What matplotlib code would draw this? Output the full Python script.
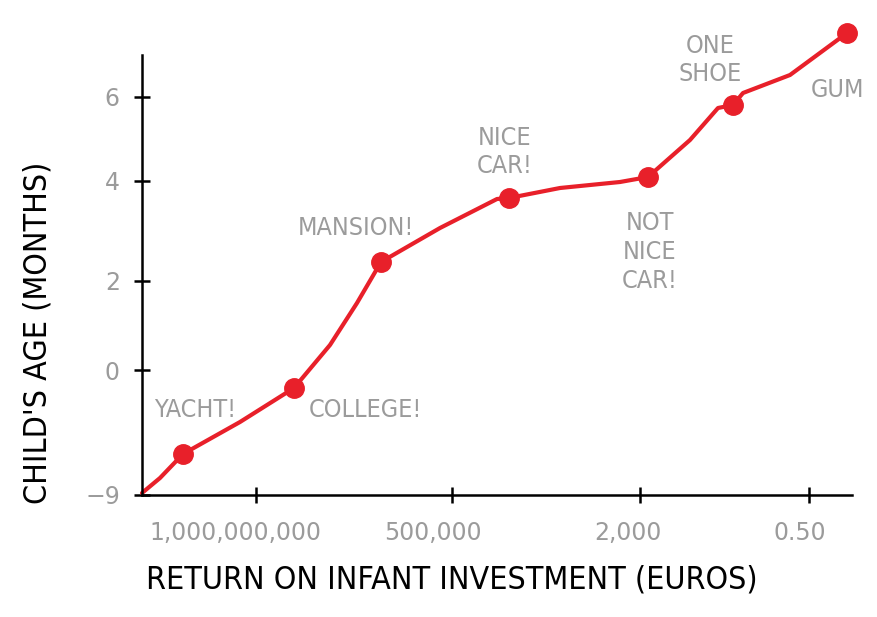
import matplotlib.pyplot as plt
import matplotlib.transforms as mtransforms
import numpy as np

# curva a mano (unidades del dibujo)
line_x = [0.0, 0.18, 0.41, 0.98, 1.52, 1.88, 2.15, 2.39, 2.98, 3.55, 3.67, 4.18, 4.78, 5.06, 5.48, 5.76, 5.91, 6.01, 6.48, 7.05]
line_y = [0.02, 0.17, 0.41, 0.73, 1.07, 1.50, 1.92, 2.33, 2.67, 2.96, 2.97, 3.07, 3.13, 3.18, 3.55, 3.87, 3.90, 4.02, 4.20, 4.62]

# puntos marcados
dot_x = [0.41, 1.52, 2.39, 3.67, 5.06, 5.91, 7.05]
dot_y = [0.41, 1.07, 2.33, 2.97, 3.18, 3.90, 4.62]
dot_names = ['YACHT!', 'COLLEGE!', 'MANSION!', 'NICE\nCAR!', 'NOT\nNICE\nCAR!', 'ONE\nSHOE', 'GUM']
name_x = [0.53, 2.23, 2.14, 3.63, 5.08, 5.68, 6.96]
name_y = [0.85, 0.85, 2.67, 3.43, 2.43, 4.35, 4.05]

# ejes
xtick_pos = [1.14, 3.10, 4.98, 6.67]
xtick_lab = ['1,000,000,000', '500,000', '2,000', '0.50']
xtick_shift = [-21, -19, -12, -9]   # px, etiquetas algo corridas a la izquierda
ytick_pos = [0.0, 1.25, 2.14, 3.14, 3.98]
ytick_lab = ['\u22129', '0', '2', '4', '6']

red = '#e8202a'
gray = '#9b9b9b'

fig = plt.figure(figsize=(8.77, 6.17), dpi=100)
ax = fig.add_axes([142/877, (617-495)/617, 710/877, 440/617])

ax.plot(line_x, line_y, '-', color=red, linewidth=3, solid_capstyle='round', clip_on=False)
ax.plot(dot_x, dot_y, 'o', color=red, markersize=14, clip_on=False)
for tx, ty, s in zip(name_x, name_y, dot_names):
    ax.text(tx, ty, s, color=gray, fontsize=18, ha='center', va='center',
            linespacing=1.25, stretch='condensed')

ax.set_xlim(0, 7.10)
ax.set_ylim(0, 4.40)
for side in ['top', 'right']:
    ax.spines[side].set_visible(False)
for side in ['left', 'bottom']:
    ax.spines[side].set_linewidth(1.8)

ax.set_xticks(xtick_pos)
ax.set_xticklabels(xtick_lab)
ax.set_yticks(ytick_pos)
ax.set_yticklabels(ytick_lab)
ax.tick_params(axis='both', direction='inout', length=12, width=1.8, colors='black',
               labelcolor=gray, labelsize=17)
ax.tick_params(axis='x', pad=13)
ax.tick_params(axis='y', pad=10)
for lab, dx in zip(ax.get_xticklabels(), xtick_shift):
    lab.set_transform(lab.get_transform() + mtransforms.ScaledTranslation(dx/100, 0, fig.dpi_scale_trans))

ax.set_xlabel('RETURN ON INFANT INVESTMENT (EUROS)', fontsize=23, stretch='condensed')
ax.xaxis.set_label_coords((452-142)/710, (495-580)/440)
ax.set_ylabel("CHILD'S AGE (MONTHS)", fontsize=23, stretch='condensed')
ax.yaxis.set_label_coords((38-142)/710, (495-333)/440)
ax.xaxis.label.set_va('center')
ax.yaxis.label.set_va('center')

plt.savefig('out.png', dpi=100)
